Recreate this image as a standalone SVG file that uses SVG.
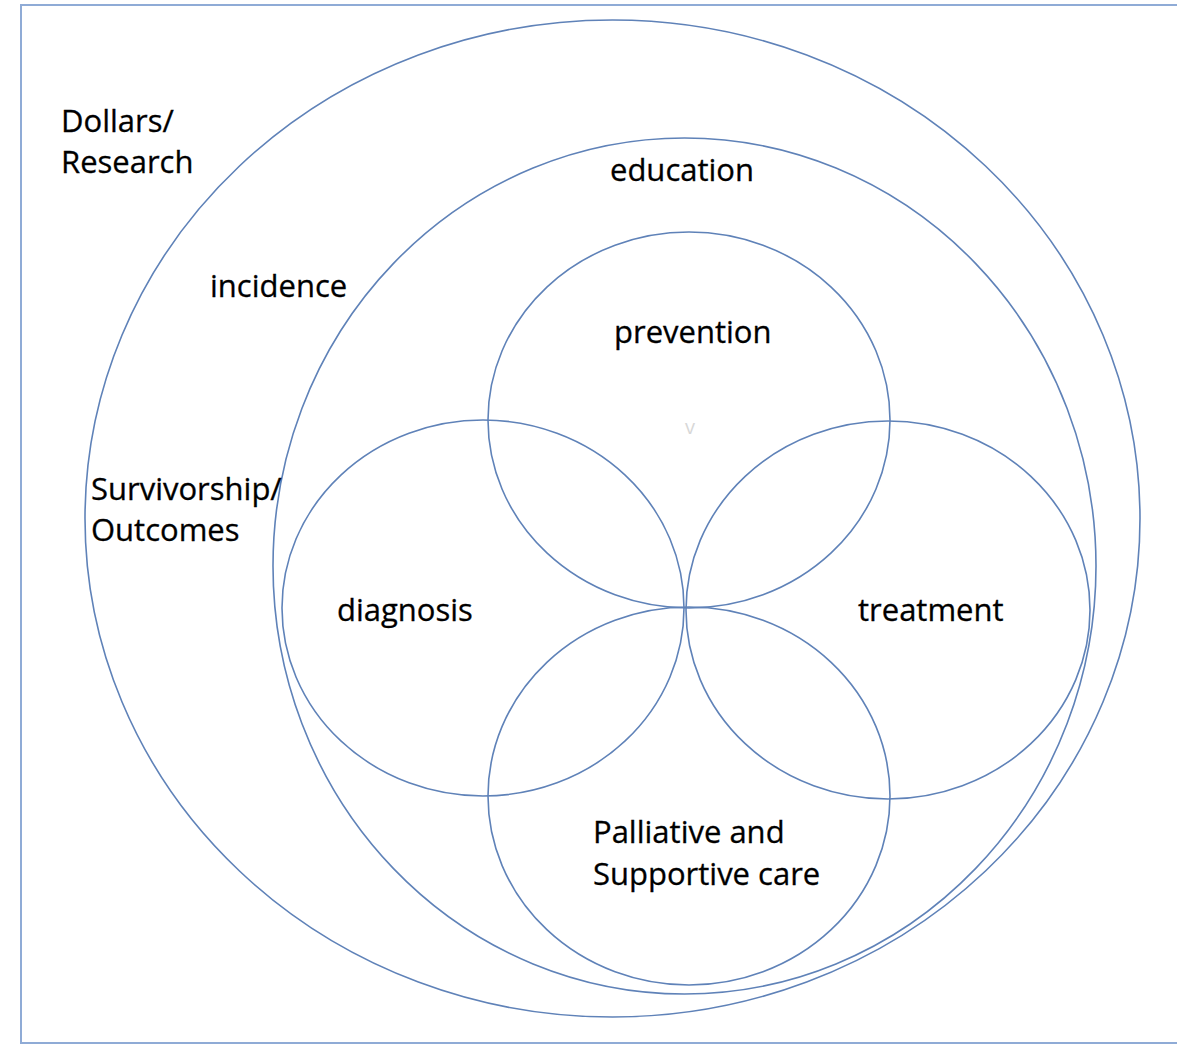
<svg xmlns="http://www.w3.org/2000/svg" width="1177" height="1048" viewBox="0 0 1177 1048">
  <style>
    .ring { fill: none; stroke: #5f82b8; stroke-width: 1.6; }
    .frame { fill: none; stroke: #8fabd6; stroke-width: 2; }
    .lbl { font-family: "Open Sans", "Liberation Sans", sans-serif; font-size: 31px; fill: #000; stroke: #000; stroke-width: 0.3; }
    .mark { font-family: "Open Sans", "Liberation Sans", sans-serif; font-size: 20px; fill: #d8d8d8; }
  </style>
  <rect width="1177" height="1048" fill="#ffffff"/>
  <!-- page frame (runs off the right edge) -->
  <rect class="frame" x="21" y="5" width="1180" height="1038"/>

  <g id="dollars-research">
    <ellipse class="ring" cx="612.5" cy="518.5" rx="527.5" ry="498.5"/>
    <text class="lbl" x="61" y="132">Dollars/</text>
    <text class="lbl" x="61" y="173">Research</text>
  </g>

  <g id="education">
    <ellipse class="ring" cx="684.5" cy="566" rx="411.5" ry="428"/>
    <text class="lbl" x="610" y="181">education</text>
  </g>

  <g id="incidence">
    <text class="lbl" x="210" y="297">incidence</text>
  </g>

  <g id="survivorship">
    <text class="lbl" x="91" y="500">Survivorship/</text>
    <text class="lbl" x="91" y="541">Outcomes</text>
  </g>

  <g id="prevention">
    <ellipse class="ring" cx="689" cy="420" rx="201" ry="188"/>
    <text class="lbl" x="614" y="343">prevention</text>
  </g>

  <g id="diagnosis">
    <ellipse class="ring" cx="483" cy="608" rx="201" ry="188"/>
    <text class="lbl" x="337" y="621">diagnosis</text>
  </g>

  <g id="treatment">
    <ellipse class="ring" cx="888" cy="610" rx="202" ry="189"/>
    <text class="lbl" x="858" y="621">treatment</text>
  </g>

  <g id="palliative">
    <ellipse class="ring" cx="689" cy="796" rx="201" ry="189"/>
    <text class="lbl" x="593" y="843">Palliative and</text>
    <text class="lbl" x="593" y="885">Supportive care</text>
  </g>

  <g id="center-mark">
    <text class="mark" x="690" y="434" text-anchor="middle">v</text>
  </g>

  <g id="connectors"></g>
</svg>
